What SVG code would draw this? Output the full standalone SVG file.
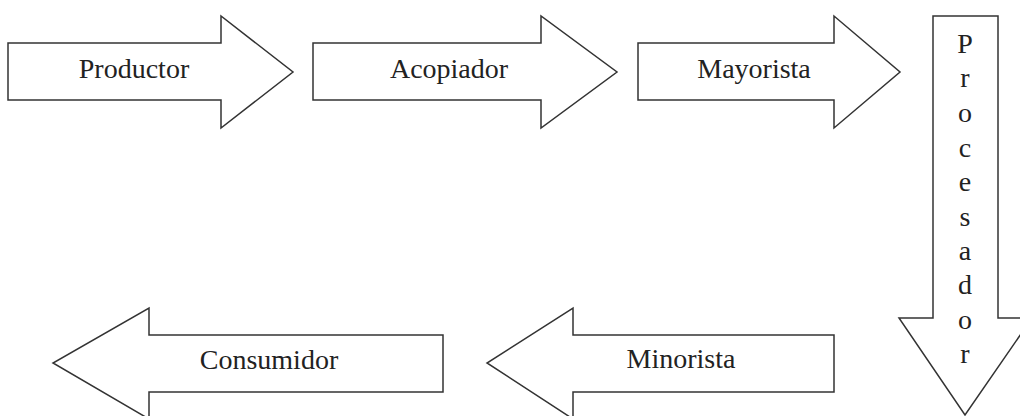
<svg xmlns="http://www.w3.org/2000/svg" width="1020" height="416" viewBox="0 0 1020 416">
<style>
.ar{fill:#fff;stroke:#333;stroke-width:1.5;stroke-linejoin:miter}
.t{font-family:"Liberation Serif","Times New Roman",serif;font-size:28px;fill:#222;text-anchor:middle}
</style>
<rect width="1020" height="416" fill="#fff"/>
<g id="connectors"></g>
<g id="productor">
<polygon class="ar" points="8,43 221,43 221,16 293,72 221,128 221,100 8,100"/>
<text class="t" x="134" y="78">Productor</text>
</g>
<g id="acopiador">
<polygon class="ar" points="313,43 541,43 541,16 617,72 541,128 541,100 313,100"/>
<text class="t" x="449" y="78">Acopiador</text>
</g>
<g id="mayorista">
<polygon class="ar" points="638,43 834,43 834,16 900,72 834,128 834,100 638,100"/>
<text class="t" x="754" y="78">Mayorista</text>
</g>
<g id="procesador">
<polygon class="ar" points="933,16 998,16 998,318 1032,318 965,415 899,318 933,318"/>
<g class="t">
<text x="965" y="53">P</text>
<text x="965" y="87">r</text>
<text x="965" y="122">o</text>
<text x="965" y="157">c</text>
<text x="965" y="191">e</text>
<text x="965" y="226">s</text>
<text x="965" y="260">a</text>
<text x="965" y="294">d</text>
<text x="965" y="329">o</text>
<text x="965" y="363">r</text>
</g>
</g>
<g id="minorista">
<polygon class="ar" points="834,335 573,335 573,308 487,363 573,419 573,392 834,392"/>
<text class="t" x="681" y="368">Minorista</text>
</g>
<g id="consumidor">
<polygon class="ar" points="443,335 149,335 149,308 53,363 149,419 149,392 443,392"/>
<text class="t" x="269" y="369">Consumidor</text>
</g>
</svg>
